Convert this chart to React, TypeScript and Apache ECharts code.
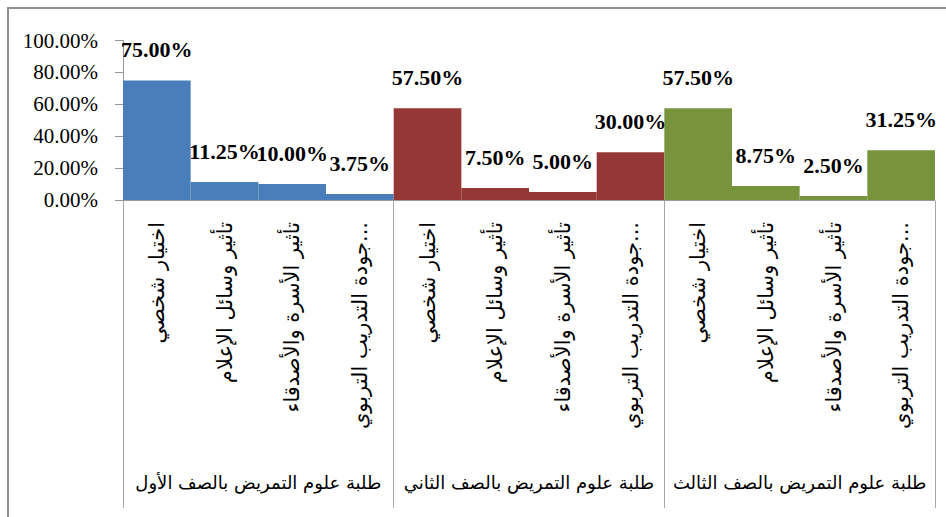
import React, { useEffect, useRef } from "react";
import * as echarts from "echarts";

const groups = [
  "طلبة علوم التمريض بالصف الأول",
  "طلبة علوم التمريض بالصف الثاني",
  "طلبة علوم التمريض بالصف الثالث",
];
const reasons = [
  "اختيار شخصي",
  "تأثير وسائل الإعلام",
  "تأثير الأسرة والأصدقاء",
  "جودة التدريب التربوي...",
];
const firstYear = [75, 11.25, 10, 3.75];
const secondYear = [57.5, 7.5, 5, 30];
const thirdYear = [57.5, 8.75, 2.5, 31.25];
const groupColors = ["#4A7EBB", "#953735", "#77933C"];
const yMin = 0;
const yMax = 100;
const yStep = 20;

export default function App() {
  const ref = useRef<HTMLDivElement>(null);
  useEffect(() => {
    if (!ref.current) return;
    const chart = echarts.init(ref.current, undefined, { renderer: "svg" });
    const seriesByGroup = [firstYear, secondYear, thirdYear];
    const cats: string[] = [];
    const barData: any[] = [];
    seriesByGroup.forEach((vals, g) => {
      vals.forEach((v, i) => {
        cats.push(String(g * reasons.length + i));
        barData.push({ value: v, itemStyle: { color: groupColors[g] } });
      });
    });
    chart.setOption({
      animation: false,
      backgroundColor: "#ffffff",
      graphic: [
        {
          type: "rect",
          shape: { x: 8, y: 8, width: 980, height: 540 },
          style: { fill: "none", stroke: "#8f8f8f", lineWidth: 2 },
          silent: true,
        },
      ],
      grid: { left: 123, right: 11, top: 40.5, bottom: 317, containLabel: false },
      xAxis: [
        {
          type: "category",
          data: cats,
          boundaryGap: true,
          axisLine: { show: true, lineStyle: { color: "#9a9a9a", width: 1 } },
          axisTick: { show: false },
          axisLabel: {
            interval: 0,
            rotate: 90,
            margin: 22,
            color: "#000",
            fontFamily: "DejaVu Sans",
            fontSize: 21,
            formatter: (v: string) => reasons[Number(v) % reasons.length],
          },
        },
        {
          type: "category",
          data: groups,
          position: "bottom",
          offset: 308,
          boundaryGap: true,
          axisLine: { show: false },
          axisTick: {
            show: true,
            inside: true,
            interval: 0,
            length: 307,
            lineStyle: { color: "#a6a6a6", width: 1 },
          },
          axisLabel: {
            inside: true,
            interval: 0,
            hideOverlap: false,
            margin: 17,
            color: "#000",
            fontFamily: "DejaVu Sans",
            fontSize: 18,
          },
        },
      ],
      yAxis: {
        type: "value",
        min: yMin,
        max: yMax,
        interval: yStep,
        axisLine: { show: true, lineStyle: { color: "#9a9a9a", width: 1 } },
        axisTick: { show: true, length: 8, lineStyle: { color: "#9a9a9a" } },
        splitLine: { show: false },
        axisLabel: {
          margin: 25,
          color: "#000",
          fontFamily: "'Liberation Serif', 'Times New Roman', serif",
          fontSize: 21,
          formatter: (v: number) => v.toFixed(2) + "%",
        },
      },
      series: [
        {
          type: "bar",
          xAxisIndex: 0,
          data: barData,
          barCategoryGap: "0%",
          label: {
            show: true,
            position: "top",
            distance: 20,
            color: "#000",
            fontFamily: "'Liberation Serif', 'Times New Roman', serif",
            fontWeight: "bold",
            fontSize: 22,
            formatter: (p: any) => Number(p.value).toFixed(2) + "%",
          },
        },
      ],
    });
    return () => chart.dispose();
  }, []);
  return (
    <div
      ref={ref}
      style={{ position: "fixed", left: 0, top: 0, width: 946, height: 517 }}
    />
  );
}
